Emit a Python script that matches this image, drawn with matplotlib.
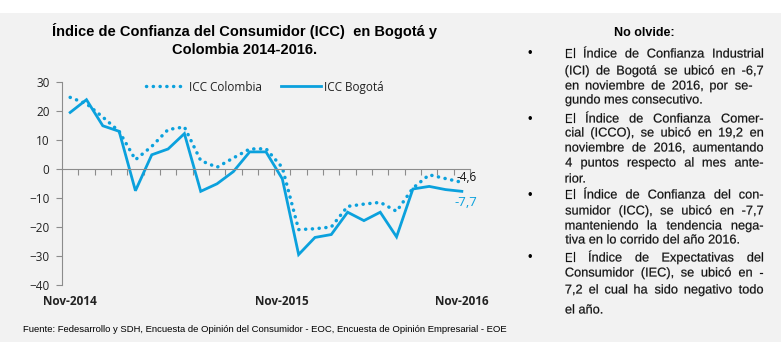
import matplotlib
matplotlib.use("Agg")
import matplotlib.pyplot as plt
from matplotlib.patches import Rectangle, PathPatch
from matplotlib.textpath import TextPath
from matplotlib.font_manager import FontProperties
from matplotlib.transforms import Affine2D
import numpy as np

# Monthly ICC series, Nov-2014 .. Nov-2016
months = ["Nov-2014", "Dic-2014", "Ene-2015", "Feb-2015", "Mar-2015", "Abr-2015",
          "May-2015", "Jun-2015", "Jul-2015", "Ago-2015", "Sep-2015", "Oct-2015",
          "Nov-2015", "Dic-2015", "Ene-2016", "Feb-2016", "Mar-2016", "Abr-2016",
          "May-2016", "Jun-2016", "Jul-2016", "Ago-2016", "Sep-2016", "Oct-2016",
          "Nov-2016"]
icc_colombia = [24.7, 22.5, 17.9, 13.0, 3.2, 7.8, 13.6, 14.5, 2.9, 0.6, 3.8, 6.9,
                7.0, 0.5, -20.9, -20.6, -20.0, -12.9, -12.1, -11.5, -14.6, -6.6,
                -2.0, -3.3, -4.6]
icc_bogota = [19.5, 23.9, 14.9, 13.0, -7.5, 4.9, 6.9, 12.2, -7.7, -5.1, -0.9, 5.9,
              5.9, -3.4, -29.5, -23.6, -22.6, -14.9, -17.8, -14.9, -23.4, -6.9,
              -6.0, -7.1, -7.7]
xlabel_idx = [0, 13, 24]
xlabel_txt = ["Nov-2014", "Nov-2015", "Nov-2016"]

title = "Índice de Confianza del Consumidor (ICC)  en Bogotá y\nColombia 2014-2016."
fuente = ("Fuente: Fedesarrollo y SDH, Encuesta de Opinión del Consumidor - EOC, "
          "Encuesta de Opinión Empresarial - EOE")

# side note: (text, justified?, starts a bullet?)
note_lines = [
    ("El Índice de Confianza Industrial", True, True),
    ("(ICI)  de Bogotá se ubicó en -6,7", True, False),
    ("en  noviembre  de 2016, por se-", True, False),
    ("gundo mes consecutivo.", False, False),
    ("El Índice de Confianza Comer-", True, True),
    ("cial (ICCO), se ubicó en 19,2 en", True, False),
    ("noviembre de 2016, aumentando", True, False),
    ("4 puntos respecto al mes ante-", True, False),
    ("rior.", False, False),
    ("El Índice de Confianza  del con-", True, True),
    ("sumidor (ICC), se ubicó en -7,7", True, False),
    ("manteniendo la tendencia nega-", True, False),
    ("tiva en lo corrido del año 2016.", False, False),
    ("El Índice de Expectativas del", True, True),
    ("Consumidor (IEC), se ubicó en -", True, False),
    ("7,2 el cual ha sido negativo todo", True, False),
    ("el año.", False, False),
]
note_y = [54, 71, 86, 100, 119, 133, 148, 163, 179, 195, 211, 226, 240,
          258, 273, 290, 310]
note_right = [763, 763, 752, 0, 763, 763, 763, 763, 0, 763, 763, 763, 0,
              763, 763, 763, 0]

W, H = 781, 342
DPI = 100
blue = "#0ba1dd"
bg = "#f2f2f2"
chart_font = "Open Sans"
text_font = "Liberation Sans"

fig = plt.figure(figsize=(W / DPI, H / DPI), dpi=DPI, facecolor=bg)
fig.patches.append(Rectangle((0, 1 - 13 / H), 1, 13 / H, transform=fig.transFigure,
                             facecolor="white", edgecolor="none", zorder=0))

ax = fig.add_axes([62 / W, 1 - 285 / H, (470 - 62) / W, (285 - 82) / H])
ax.set_facecolor("none")
x = np.arange(len(months))

ax.plot(x, icc_colombia, color=blue, lw=2.5, linestyle=(0, (0.05, 1.9)),
        dash_capstyle="round", label="ICC Colombia")
ax.plot(x, icc_bogota, color=blue, lw=2.0, solid_joinstyle="miter",
        label="ICC Bogotá")

ax.set_xlim(-0.5, len(months) - 0.5)
ax.set_ylim(-40, 30)
ax.set_yticks(np.arange(-40, 31, 10))
ax.tick_params(axis="y", direction="out", length=4, width=0.8, color="#8c8c8c",
               labelsize=8.5, pad=5, labelcolor="#222222")
for lbl in ax.get_yticklabels():
    lbl.set_fontfamily(chart_font)

ax.spines["top"].set_visible(False)
ax.spines["right"].set_visible(False)
ax.spines["left"].set_color("#8c8c8c")
ax.spines["left"].set_linewidth(0.8)
ax.spines["bottom"].set_position(("data", 0))
ax.spines["bottom"].set_color("#8c8c8c")
ax.spines["bottom"].set_linewidth(0.8)
ax.set_xticks(np.arange(0.5, len(months), 1.0))
ax.tick_params(axis="x", direction="out", length=4, width=0.8, color="#8c8c8c",
               labelbottom=False)

for i, t in zip(xlabel_idx, xlabel_txt):
    ax.annotate(t, (i, -40), xytext=(0, -7), textcoords="offset points",
                ha="center", va="top", fontsize=8.5, fontweight="bold",
                family=chart_font, color="#222222", annotation_clip=False)

# end-of-series value labels
ax.annotate(f"{icc_colombia[-1]:.1f}".replace(".", ","), (x[-1], icc_colombia[-1]),
            xytext=(3.4, 3.5), textcoords="offset points", ha="center", va="center",
            fontsize=8.5, family=chart_font, color="#111111", annotation_clip=False)
ax.annotate(f"{icc_bogota[-1]:.1f}".replace(".", ","), (x[-1], icc_bogota[-1]),
            xytext=(3.2, -7.7), textcoords="offset points", ha="center", va="center",
            fontsize=9.5, family=chart_font, color=blue, annotation_clip=False)

leg = ax.legend(loc="center", bbox_to_anchor=(0.4975, 0.975), ncol=2, frameon=False,
                handlelength=3.4, handletextpad=0.25, columnspacing=1.6,
                prop={"family": chart_font, "size": 8.5})
for t in leg.get_texts():
    t.set_color("#222222")

fig.text(245 / W, 1 - 40 / H, title, ha="center", va="center", fontsize=10.5,
         fontweight="bold", family=text_font, linespacing=1.35)
fig.text(23 / W, 1 - 330 / H, fuente, ha="left", va="center", fontsize=6.8,
         family=text_font)

# side note box
fig.text(644 / W, 1 - 33 / H, "No olvide:", ha="center", va="center", fontsize=9,
         fontweight="bold", family=text_font)

# note text drawn as glyph paths so justified words share one baseline
note_size = 9.2
fp = FontProperties(family=text_font, size=note_size)
px = DPI / 72.0
x_left = 565.5


def put_word(s, x0, base):
    tp = TextPath((0, 0), s, size=note_size, prop=fp)
    ext = tp.get_extents()
    tr = Affine2D().scale(px).translate(x0 - ext.x0 * px, base)
    fig.add_artist(PathPatch(tp, transform=tr, facecolor="#111111",
                             edgecolor="#111111", lw=0.15))


def ink_width(s):
    return TextPath((0, 0), s, size=note_size, prop=fp).get_extents().width * px


for (line, justify, bullet), yy, xr in zip(note_lines, note_y, note_right):
    base = H - (yy + 3.5)
    if bullet:
        fig.text(530 / W, base / H, "•", ha="center", va="baseline",
                 fontsize=note_size, family=text_font)
    words = line.split()
    if not justify or len(words) < 2:
        put_word(line, x_left, base)
        continue
    widths = [ink_width(w) for w in words]
    gap = (xr - x_left - sum(widths)) / (len(words) - 1)
    xpos = x_left
    for w, wd in zip(words, widths):
        put_word(w, xpos, base)
        xpos += wd + gap

fig.savefig("out.png", dpi=DPI, facecolor=bg)
